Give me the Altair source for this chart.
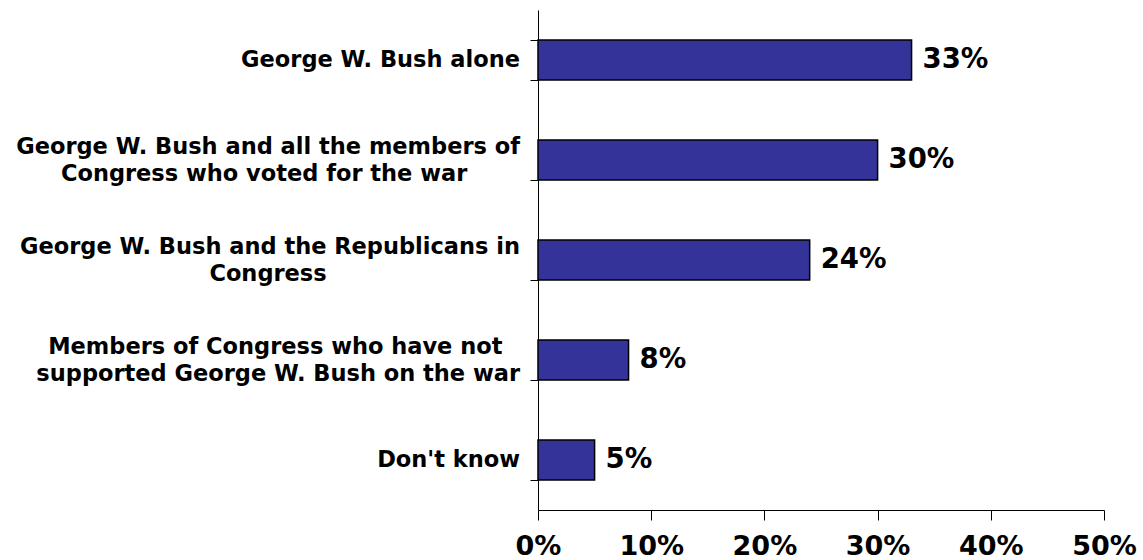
import altair as alt
import pandas as pd

PAD = "\u2800"  # blank braille cell: an invisible, non-collapsing filler

categories = [
    "George W. Bush alone",
    "George W. Bush and all the members of|Congress who voted for the war",
    "George W. Bush and the Republicans in|Congress",
    "Members of Congress who have not|supported George W. Bush on the war",
    "Don't know",
]
values = [33, 30, 24, 8, 5]
tick_values = [0, 10, 20, 30, 40, 50]

# trailing blank cells so that the shorter line of a right-aligned
# two-line label sits centred under / over the longer one (styling only)
line_pads = {
    categories[1]: (0, 3),
    categories[2]: (0, 11),
    categories[3]: (1, 0),
}


def display(cat):
    lines = cat.split("|")
    pads = line_pads.get(cat, (0,) * len(lines))
    return "|".join(l + PAD * p for l, p in zip(lines, pads))


df = pd.DataFrame({"cat": [display(c) for c in categories], "val": values})
order = list(df["cat"])
df["lbl"] = df["val"].astype(str) + "%"

FONT = "DejaVu Sans"

y_enc = alt.Y(
    "cat:N",
    sort=order,
    scale=alt.Scale(paddingInner=0.6, paddingOuter=0.3),
    axis=alt.Axis(
        title=None,
        labels=False,
        tickBand="extent",
        tickSize=8,
        tickColor="black",
        domainColor="black",
        grid=False,
    ),
)

x_enc = alt.X(
    "val:Q",
    scale=alt.Scale(domain=[0, 50], nice=False),
    axis=alt.Axis(
        title=None,
        values=tick_values,
        labelExpr="datum.value + '%'",
        labelFont=FONT,
        labelFontWeight="bold",
        labelFontSize=27,
        labelColor="black",
        labelPadding=13,
        tickSize=10,
        tickColor="black",
        domainColor="black",
        grid=False,
        labelFlush=False,
    ),
)

bars = alt.Chart(df).mark_bar(color="#333399", stroke="black", strokeWidth=1.5).encode(
    x=x_enc, y=y_enc
)

values_text = alt.Chart(df).mark_text(
    align="left", baseline="middle", dx=11, font=FONT, fontWeight="bold",
    fontSize=27.5, color="black"
).encode(x="val:Q", y=y_enc, text="lbl:N")

label_style = dict(align="right", baseline="middle", font=FONT, fontWeight="bold",
                   fontSize=22.5, color="black", lineBreak="|", lineHeight=27)

labels_one = alt.Chart(df).transform_filter(
    "indexof(datum.cat, '|') < 0"
).mark_text(**label_style).encode(
    x=alt.value(-18), y=y_enc, text="cat:N"
)

labels_two = alt.Chart(df).transform_filter(
    "indexof(datum.cat, '|') >= 0"
).mark_text(dy=-13, **label_style).encode(
    x=alt.value(-18), y=y_enc, text="cat:N"
)

chart = (bars + values_text + labels_one + labels_two).properties(
    width=566, height=500,
    background="white",
    autosize=alt.AutoSizeParams(type="none"),
    padding={"left": 538, "top": 10, "right": 39, "bottom": 50},
).configure_view(strokeWidth=0, stroke=None)

chart.save("out.html", embed_options={"renderer": "svg", "actions": False})
